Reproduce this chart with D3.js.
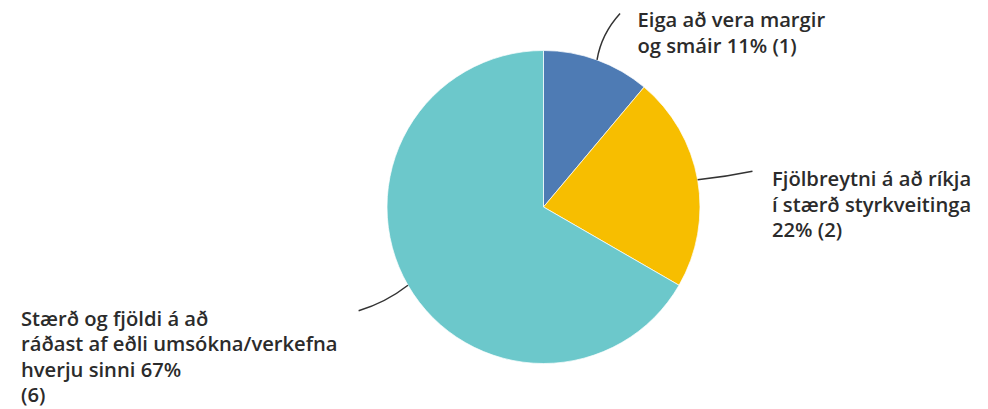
<!DOCTYPE html>
<html><head><meta charset="utf-8">
<script src="https://cdn.jsdelivr.net/npm/d3@7/dist/d3.min.js"></script>
<style>
html,body{margin:0;padding:0;background:#fff;}
svg{display:block;}
text{font-family:"Open Sans",sans-serif;font-weight:600;fill:#2b2b2b;}
</style></head>
<body>
<svg id="chart" width="988" height="409"></svg>
<script>
const categories = ["Eiga að vera margir og smáir", "Fjölbreytni á að ríkja í stærð styrkveitinga", "Stærð og fjöldi á að ráðast af eðli umsókna/verkefna hverju sinni"];
const values = [1, 2, 6];
const colors = ["#4e7bb4", "#f7be00", "#6cc8cb"];
const labelLines = [
  ["Eiga að vera margir", "og smáir 11% (1)"],
  ["Fjölbreytni á að ríkja", "í stærð styrkveitinga", "22% (2)"],
  ["Stærð og fjöldi á að", "ráðast af eðli umsókna/verkefna", "hverju sinni 67%", "(6)"]
];

const W = 988, H = 409;
const cx = 543.5, cy = 207, R = 156.5;
const svg = d3.select("#chart");
const g = svg.append("g").attr("transform", `translate(${cx},${cy})`);

const pie = d3.pie().sort(null).value(d => d);
const arcs = pie(values);
const arc = d3.arc().innerRadius(0).outerRadius(R);

g.selectAll("path.slice").data(arcs).enter().append("path")
  .attr("class", "slice")
  .attr("d", arc)
  .attr("fill", (d, i) => colors[i])
  .attr("stroke", "#fff").attr("stroke-width", 0.7);

// leader lines
const endR = [208, 212, 212];
const endOff = [1.6, 0.3, 0.7]; // degrees
const ctrlOff = [-1.5, 0.6, -1.2];
arcs.forEach((d, i) => {
  const a = (d.startAngle + d.endAngle) / 2;
  const sx = Math.sin(a) * R, sy = -Math.cos(a) * R;
  const ea = a + endOff[i] * Math.PI / 180;
  const ex = Math.sin(ea) * endR[i], ey = -Math.cos(ea) * endR[i];
  const ca = a + ctrlOff[i] * Math.PI / 180, cr = (R + endR[i]) / 2;
  const mx = Math.sin(ca) * cr, my = -Math.cos(ca) * cr;
  g.append("path")
    .attr("d", `M${sx},${sy} Q${mx},${my} ${ex},${ey}`)
    .attr("fill", "none").attr("stroke", "#333").attr("stroke-width", 1.5);
});

const fs = 20.2;
const labelPos = [
  {x: 637.5, y: 27, lh: 25.5},
  {x: 772, y: 186, lh: 25.5},
  {x: 21, y: 325.5, lh: 25.5}
];
labelLines.forEach((lines, i) => {
  const t = svg.append("text").attr("x", labelPos[i].x).attr("y", labelPos[i].y).attr("font-size", fs);
  lines.forEach((ln, j) => {
    t.append("tspan").attr("x", labelPos[i].x).attr("dy", j === 0 ? 0 : labelPos[i].lh).text(ln);
  });
});
</script>
</body></html>
